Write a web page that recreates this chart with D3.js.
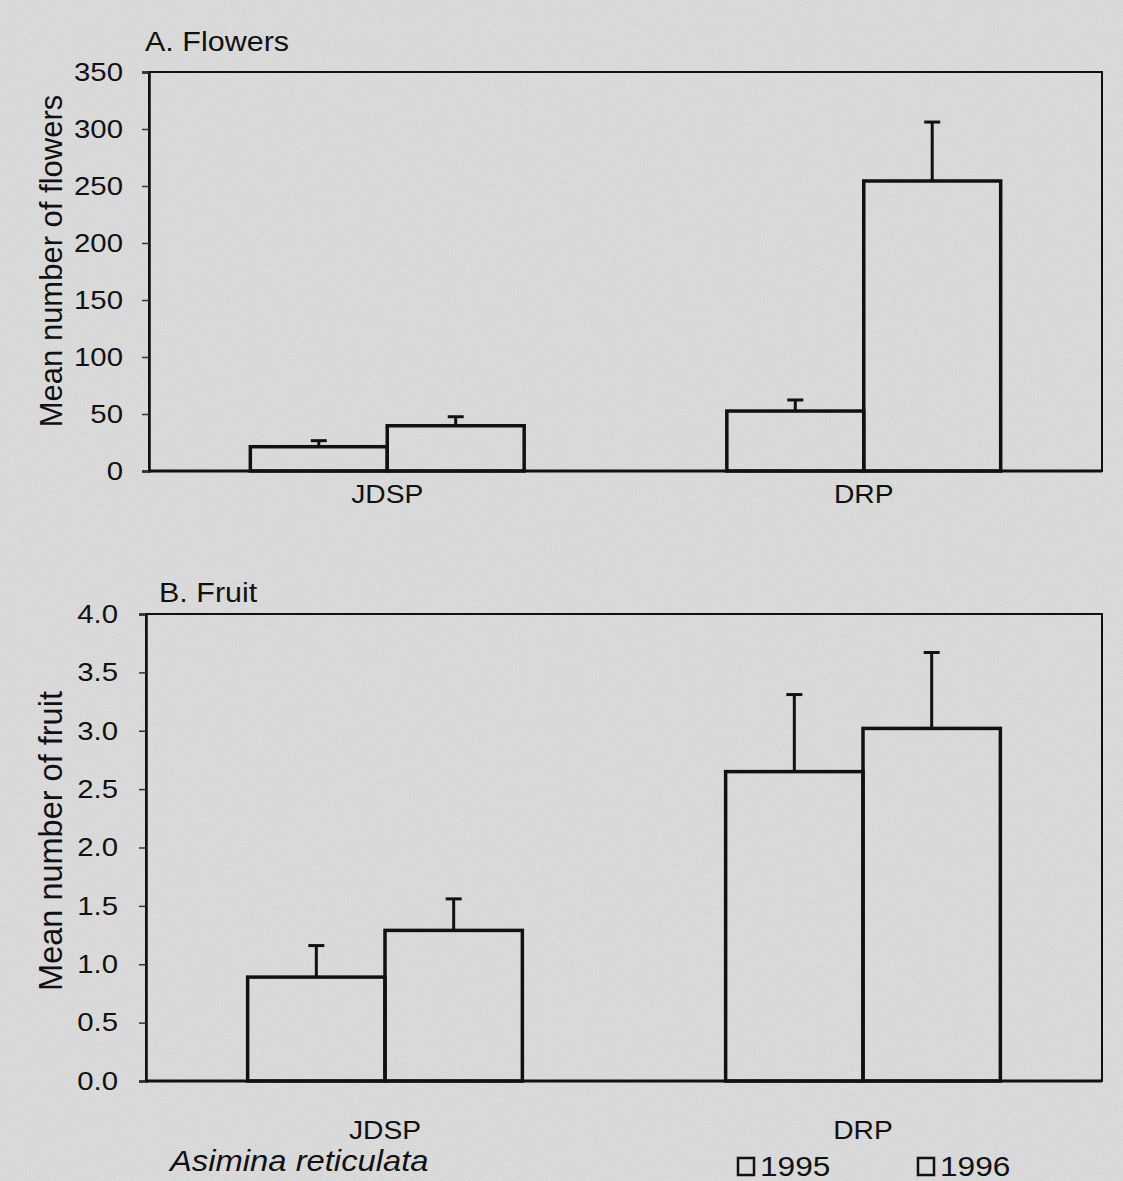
<!DOCTYPE html>
<html><head><meta charset="utf-8">
<script src="https://cdn.jsdelivr.net/npm/d3@7"></script>
<style>body{margin:0;background:#d7d7d7;}svg{display:block;}</style>
</head><body>
<svg id="c" width="1123" height="1181"></svg>
<script>
const categories = ["JDSP", "DRP"];
const years = ["1995", "1996"];
const flowersMean = [[21.3, 39.7], [52.6, 254.4]];
const flowersErr  = [[26.6, 47.6], [62.3, 306.1]];
const fruitMean = [[0.89, 1.29], [2.65, 3.02]];
const fruitErr  = [[1.16, 1.56], [3.31, 3.67]];
const flowerTicks = [0, 50, 100, 150, 200, 250, 300, 350];
const fruitTicks = [0, 0.5, 1.0, 1.5, 2.0, 2.5, 3.0, 3.5, 4.0];

const svg = d3.select("#c");
const font = "Liberation Sans, Arial, sans-serif";
const SX = 1.13; // horizontal stretch of the scanned text

function stretchedText(parent, x, y, str, size, anchor, italic) {
  const t = parent.append("text")
    .attr("transform", `translate(${x},${y}) scale(${SX},1)`)
    .attr("font-family", font).attr("font-size", size).attr("fill", "#111")
    .attr("text-anchor", anchor || "start").text(str);
  if (italic) t.attr("font-style", "italic");
  return t;
}

// noise texture
const defs = svg.append("defs");
const f = defs.append("filter").attr("id","noise").attr("x",0).attr("y",0).attr("width","100%").attr("height","100%");
f.append("feTurbulence").attr("type","fractalNoise").attr("baseFrequency",0.9).attr("numOctaves",2).attr("seed",3).attr("result","t");
f.append("feColorMatrix").attr("type","matrix")
 .attr("values","0 0 0 0 0.5  0 0 0 0 0.5  0 0 0 0 0.5  0 0 0 -2.2 1.35");
svg.append("rect").attr("width",1123).attr("height",1181).attr("fill","#dcdcdc");
svg.append("rect").attr("width",1123).attr("height",1181).attr("filter","url(#noise)").attr("opacity",0.35);

function panel(opts) {
  const {left, right, top, bottom, domainMax, ticks, fmt, means, errs, title, titleX, titleY, ylabel, ylabelX, ylabelY, ylabelSize, labelY, tickLabelEnd} = opts;
  const g = svg.append("g");
  const y = d3.scaleLinear().domain([0, domainMax]).range([bottom, top]);
  const x0 = d3.scaleBand().domain(categories).range([left, right]).padding(0);
  const x1 = d3.scaleBand().domain(years).range([0, x0.bandwidth()]).paddingInner(0).paddingOuter(0.74);

  // frame
  g.append("rect").attr("x", left).attr("y", top).attr("width", right - left).attr("height", bottom - top)
    .attr("fill", "none").attr("stroke", "#111").attr("stroke-width", 2);

  const off = left - tickLabelEnd;
  const ax = g.append("g").attr("transform", `translate(${left},0)`)
    .call(d3.axisLeft(y).tickValues(ticks).tickFormat(fmt).tickSize(7).tickPadding(off - 7));
  ax.select(".domain").attr("stroke", "#111").attr("stroke-width", 2.5);
  ax.selectAll(".tick line").attr("stroke", "#333").attr("stroke-width", 1.5);
  ax.selectAll(".tick text").attr("font-family", font).attr("font-size", 26).attr("fill", "#111")
    .attr("x", -off / SX).attr("transform", `scale(${SX},1)`);

  const grp = g.selectAll("g.grp").data(categories).join("g").attr("class","grp")
    .attr("transform", d => `translate(${x0(d)},0)`);
  grp.each(function(c, ci) {
    const gg = d3.select(this);
    years.forEach((yr, yi) => {
      const m = means[ci][yi], e = errs[ci][yi];
      const bx = x1(yr), bw = x1.bandwidth();
      gg.append("line").attr("x1", bx + bw/2).attr("x2", bx + bw/2).attr("y1", y(m)).attr("y2", y(e))
        .attr("stroke", "#111").attr("stroke-width", 3);
      gg.append("line").attr("x1", bx + bw/2 - 8).attr("x2", bx + bw/2 + 8).attr("y1", y(e)).attr("y2", y(e))
        .attr("stroke", "#111").attr("stroke-width", 3);
      gg.append("rect").attr("x", bx).attr("y", y(m)).attr("width", bw).attr("height", y(0) - y(m))
        .attr("fill", "none").attr("stroke", "#111").attr("stroke-width", 3.5);
    });
  });
  // baseline
  g.append("line").attr("x1", left).attr("x2", right).attr("y1", bottom).attr("y2", bottom)
    .attr("stroke", "#111").attr("stroke-width", 3);

  categories.forEach(c => stretchedText(g, x0(c) + x0.bandwidth()/2, labelY, c, 25, "middle"));
  stretchedText(g, titleX, titleY, title, 27, "start");
  g.append("text").attr("transform", `translate(${ylabelX},${ylabelY}) rotate(-90)`)
    .attr("text-anchor","middle").attr("font-family", font).attr("font-size", ylabelSize).attr("fill","#111").text(ylabel);
}

panel({left:149, right:1102, top:72, bottom:471, domainMax:350, ticks:flowerTicks, fmt:d3.format("d"),
  means:flowersMean, errs:flowersErr, title:"A. Flowers", titleX:145, titleY:51,
  ylabel:"Mean number of flowers", ylabelX:62, ylabelY:261, ylabelSize:31, labelY:503, tickLabelEnd:123});
panel({left:146, right:1102, top:614, bottom:1081, domainMax:4, ticks:fruitTicks, fmt:d3.format(".1f"),
  means:fruitMean, errs:fruitErr, title:"B. Fruit", titleX:159, titleY:602,
  ylabel:"Mean number of fruit", ylabelX:62, ylabelY:841, ylabelSize:32.5, labelY:1139, tickLabelEnd:118});

stretchedText(svg, 170, 1171, "Asimina reticulata", 29, "start", true);

const leg = svg.append("g");
const legX = [738, 918];
years.forEach((yr, i) => {
  leg.append("rect").attr("x", legX[i]).attr("y", 1158).attr("width", 16).attr("height", 17)
    .attr("fill", "none").attr("stroke", "#111").attr("stroke-width", 2.5);
  stretchedText(leg, legX[i] + 22, 1176, yr, 28, "start");
});
</script>
</body></html>
